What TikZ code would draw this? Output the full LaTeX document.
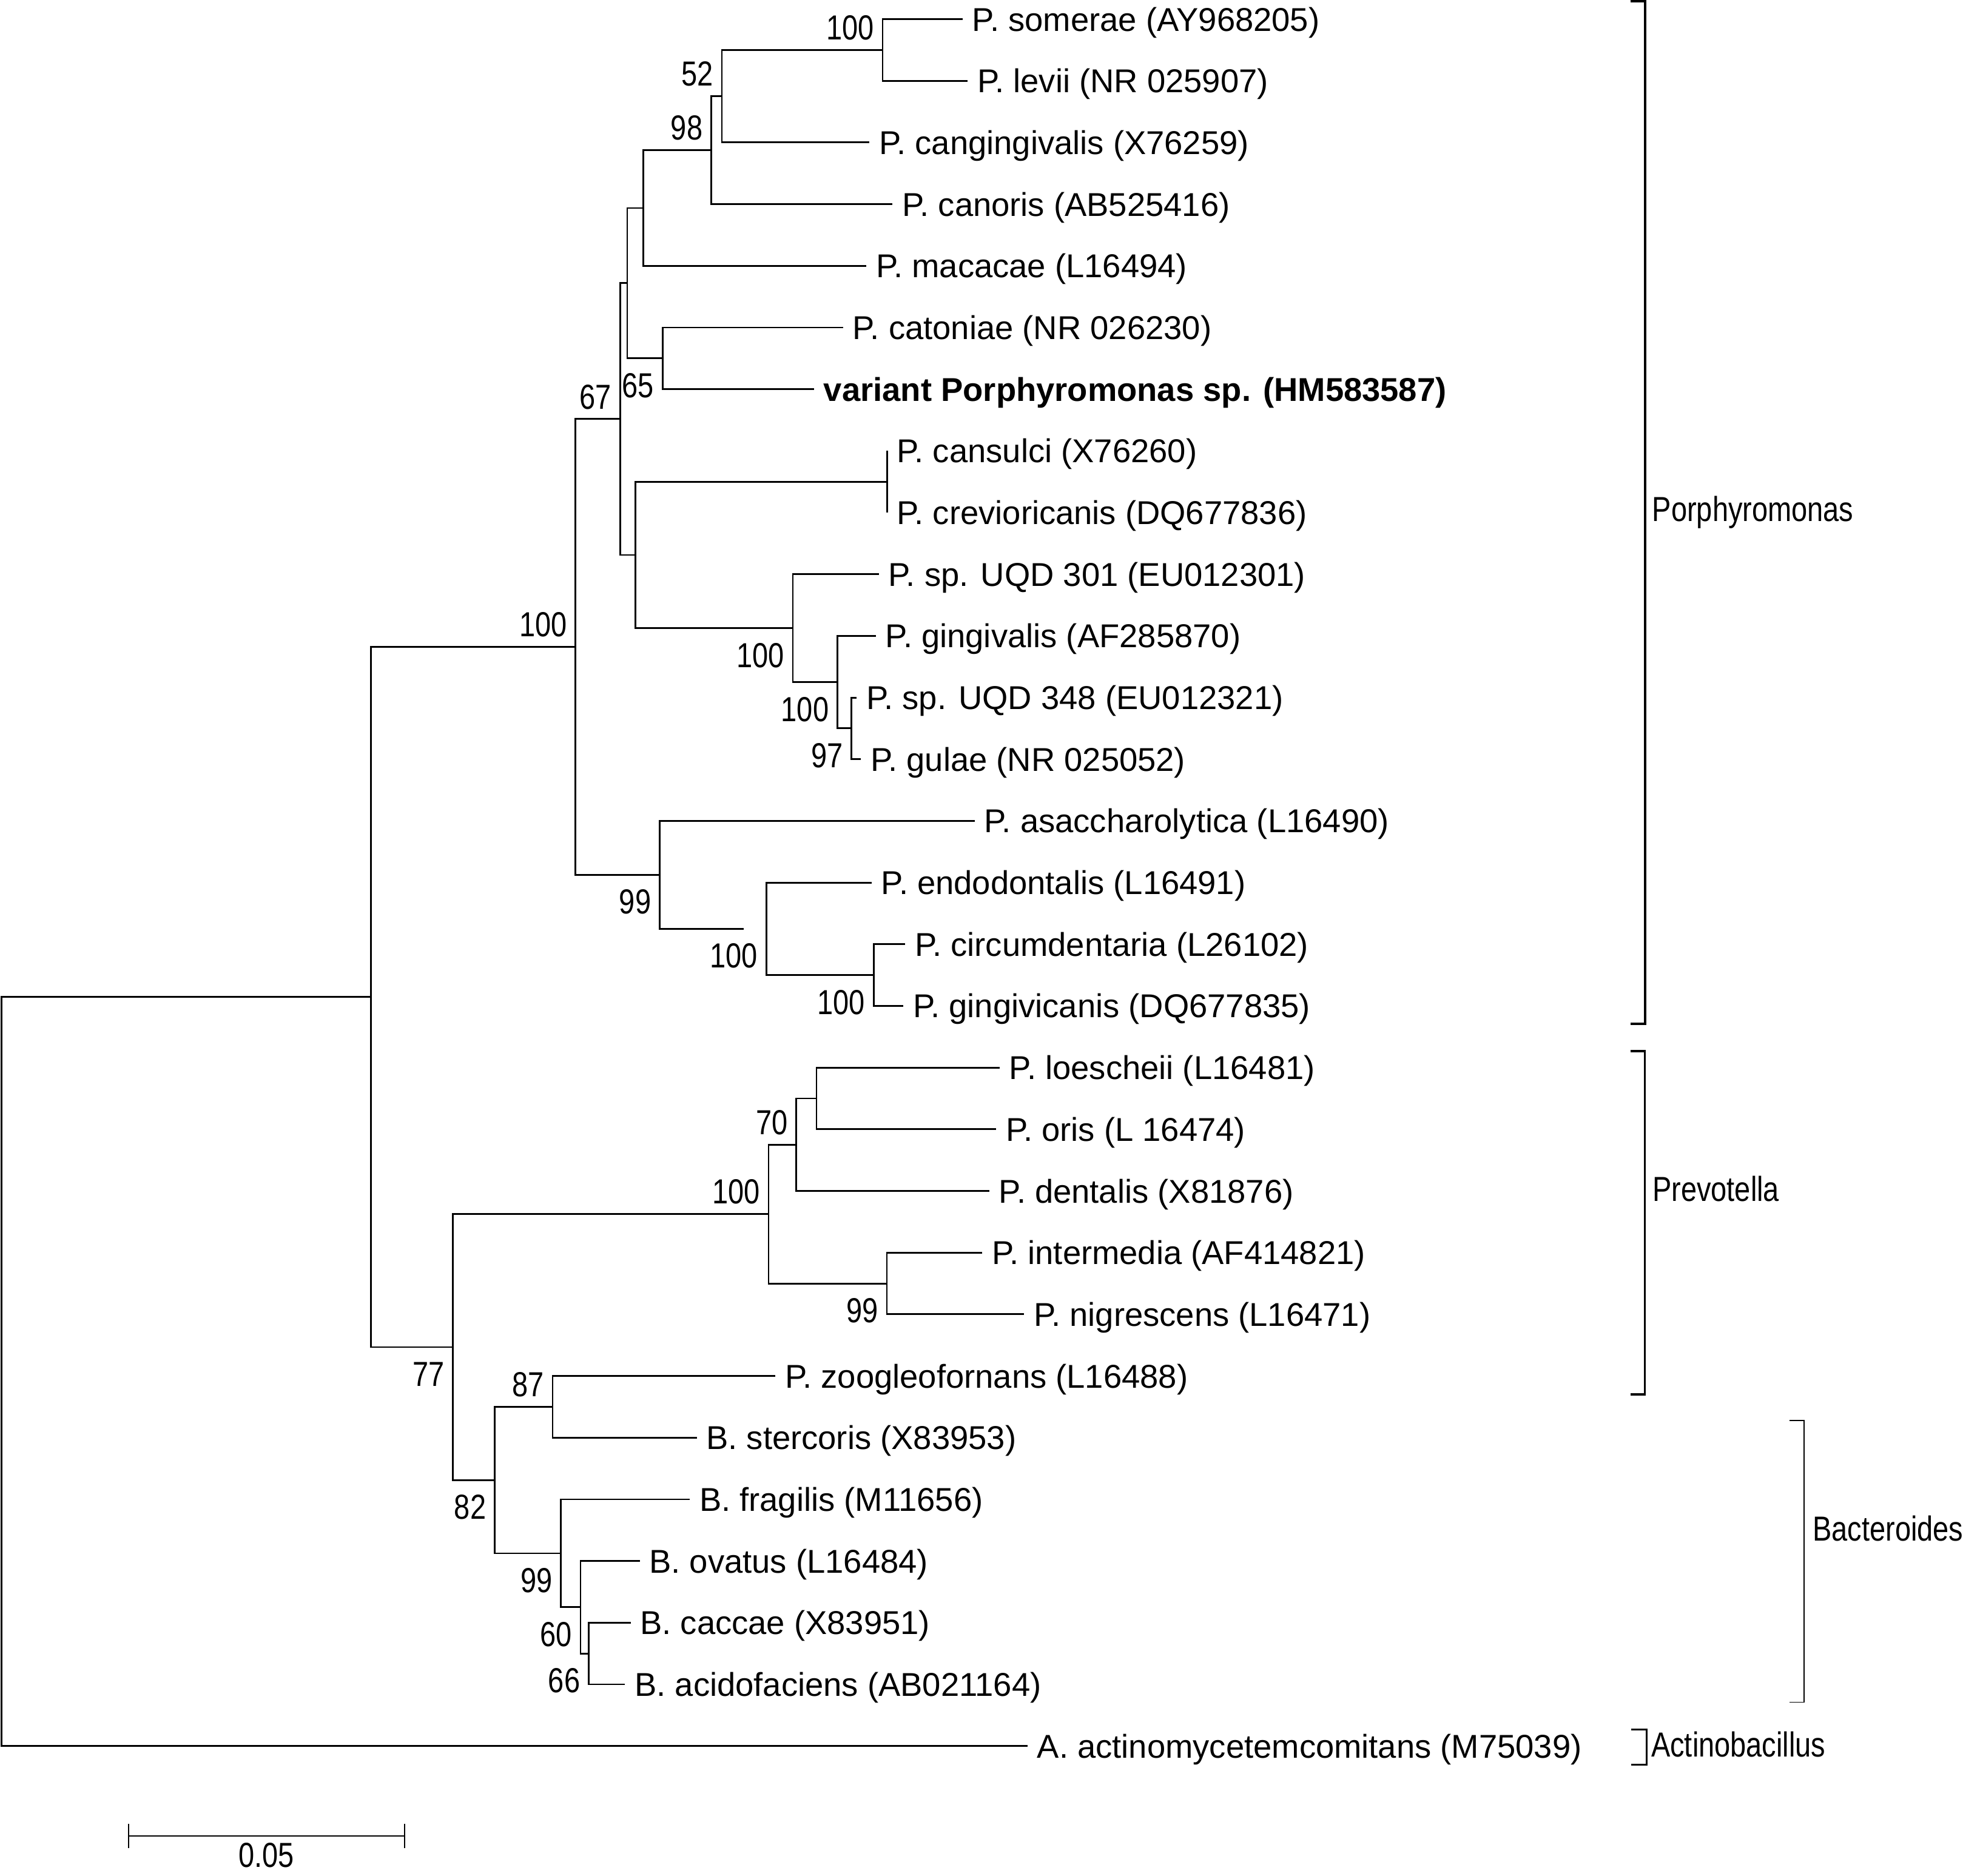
\documentclass[tikz,border=0pt]{standalone}
\usepackage{fontspec}
\setmainfont{Liberation Sans}
\newfontfamily\bootfont[FakeStretch=0.82]{Liberation Sans}
\usepackage{tikz}
\usetikzlibrary{calc}

\begin{document}
\begin{tikzpicture}[x=0.02cm, y=-0.9856cm, line width=0.8pt, line join=miter,
	leaf/.style={anchor=west, inner xsep=0.154cm, inner ysep=0pt, outer sep=0pt, text height=10.74pt, text depth=0pt, font=\fontsize{15}{18}\selectfont},
	boot/.style={inner xsep=0.14cm, outer sep=0pt, text height=11.3pt, text depth=0pt, font=\bootfont\fontsize{15.8}{18}\selectfont},
	bsup/.style={boot, anchor=south east, inner ysep=0.164cm},
	bsdn/.style={boot, anchor=north east, inner ysep=0.228cm},
	genus/.style={anchor=west, inner sep=0pt, outer sep=0pt, text height=11.3pt, text depth=0pt, font=\bootfont\fontsize{15.8}{18}\selectfont},
	bracket/.style={line width=1.05pt}]

			\useasboundingbox (0,-0.3105) rectangle (1568,30.107);

			\node[leaf] (som) at (769,0){P. somerae (AY968205)};
			\node[leaf] (lev) at (773,1){P. levii (NR 025907)};
			\node[leaf] (cang) at (694.5,2){P. cangingivalis (X76259)};
			\node[leaf] (canor) at (713,3){P. canoris (AB525416)};
			\node[leaf] (maca) at (692,4){P. macacae (L16494)};
			\node[leaf] (cato) at (673.4,5){P. catoniae (NR 026230)};
			\node[leaf] (vari) at (650.3,6){\bfseries variant Porphyromonas sp. (HM583587)};
			\node[leaf] (cansu) at (708.7,7){P. cansulci (X76260)};
			\node[leaf] (crev) at (708.7,8){P. crevioricanis (DQ677836)};
			\node[leaf] (uqdA) at (702,9){P. sp. UQD 301 (EU012301)};
			\node[leaf] (ging) at (699.6,10){P. gingivalis (AF285870)};
			\node[leaf] (uqdB) at (684.3,11){P. sp. UQD 348 (EU012321)};
			\node[leaf] (gulae) at (687.7,12){P. gulae (NR 025052)};
			\node[leaf] (asac) at (778.5,13){P. asaccharolytica (L16490)};
			\node[leaf] (endo) at (696.2,14){P. endodontalis (L16491)};
			\node[leaf] (circ) at (723,15){P. circumdentaria (L26102)};
			\node[leaf] (gcan) at (721.6,16){P. gingivicanis (DQ677835)};
			\node[leaf] (loes) at (798.5,17){P. loescheii (L16481)};
			\node[leaf] (oris) at (795.7,18){P. oris (L 16474)};
			\node[leaf] (dent) at (790.2,19){P. dentalis (X81876)};
			\node[leaf] (inter) at (784.6,20){P. intermedia (AF414821)};
			\node[leaf] (nigr) at (818,21){P. nigrescens (L16471)};
			\node[leaf] (zoog) at (619.4,22){P. zoogleofornans (L16488)};
			\node[leaf] (sterc) at (556.5,23){B. stercoris (X83953)};
			\node[leaf] (frag) at (551,24){B. fragilis (M11656)};
			\node[leaf] (ovat) at (511,25){B. ovatus (L16484)};
			\node[leaf] (cacc) at (503.7,26){B. caccae (X83951)};
			\node[leaf] (acid) at (499.3,27){B. acidofaciens (AB021164)};
			\node[leaf] (actino) at (820.8,28){A. actinomycetemcomitans (M75039)};

			\coordinate (nSomLev) at (705,0.5);
			\coordinate (nCang) at (576.6,1.25);
			\coordinate (nCanor) at (568.2,2.125);
			\coordinate (nMaca) at (513.9,3.0625);
			\coordinate (nCato) at (529.3,5.5);
			\coordinate (nUpper) at (501,4.28125);
			\coordinate (nCansu) at (708.7,7.5);
			\coordinate (nGulae) at (680.2,11.5);
			\coordinate (nGing) at (669,10.75);
			\coordinate (nUqd) at (633.3,9.875);
			\coordinate (nMid) at (507.5,8.6875);
			\coordinate (nPorA) at (495.3,6.484375);
			\coordinate (nCirc) at (697.8,15.5);
			\coordinate (nEndo) at (612.1,14.75);
			\coordinate (gEndo) at (594,14.75);
			\coordinate (nAsac) at (527,13.875);
			\coordinate (nPor) at (459.8,10.1796875);
			\coordinate (nLoes) at (652.2,17.5);
			\coordinate (nDent) at (636.1,18.25);
			\coordinate (nInter) at (708.4,20.5);
			\coordinate (nPrev) at (613.9,19.375);
			\coordinate (nZoog) at (441.4,22.5);
			\coordinate (nCacc) at (470.3,26.5);
			\coordinate (nOvat) at (463.7,25.75);
			\coordinate (nFrag) at (448.1,24.875);
			\coordinate (nBact) at (395.2,23.6875);
			\coordinate (nPrevBact) at (361.9,21.53125);
			\coordinate (nIngroup) at (296.2,15.85546875);
			\coordinate (nRoot) at (1.2,21.927734375);

			\draw (som.west) -| (nSomLev) |- (lev.west);
			\draw (nSomLev) -| (nCang) |- (cang.west);
			\draw (nCang) -| (nCanor) |- (canor.west);
			\draw (nCanor) -| (nMaca) |- (maca.west);
			\draw (cato.west) -| (nCato) |- (vari.west);
			\draw (nMaca) -| (nUpper) |- (nCato);
			\draw (cansu.west) -| (nCansu) |- (crev.west);
			\draw (uqdB.west) -| (nGulae) |- (gulae.west);
			\draw (ging.west) -| (nGing) |- (nGulae);
			\draw (uqdA.west) -| (nUqd) |- (nGing);
			\draw (nCansu) -| (nMid) |- (nUqd);
			\draw (nUpper) -| (nPorA) |- (nMid);
			\draw (circ.west) -| (nCirc) |- (gcan.west);
			\draw (endo.west) -| (nEndo) |- (nCirc);
			\draw (asac.west) -| (nAsac) |- (gEndo);
			\draw (nPorA) -| (nPor) |- (nAsac);
			\draw (loes.west) -| (nLoes) |- (oris.west);
			\draw (nLoes) -| (nDent) |- (dent.west);
			\draw (inter.west) -| (nInter) |- (nigr.west);
			\draw (nDent) -| (nPrev) |- (nInter);
			\draw (zoog.west) -| (nZoog) |- (sterc.west);
			\draw (cacc.west) -| (nCacc) |- (acid.west);
			\draw (ovat.west) -| (nOvat) |- (nCacc);
			\draw (frag.west) -| (nFrag) |- (nOvat);
			\draw (nZoog) -| (nBact) |- (nFrag);
			\draw (nPrev) -| (nPrevBact) |- (nBact);
			\draw (nPor) -| (nIngroup) |- (nPrevBact);
			\draw (nIngroup) -| (nRoot) |- (actino.west);

			\node[bsup] (bSomLev) at (nSomLev){100};
			\node[bsup] (bCang) at (nCang){52};
			\node[bsup] (bCanor) at (nCanor){98};
			\node[bsup] (bPorA) at (nPorA){67};
			\node[bsdn] (bCato) at (nCato){65};
			\node[bsup] (bPor) at (nPor){100};
			\node[bsdn] (bUqd) at (nUqd){100};
			\node[bsdn] (bGing) at (nGing){100};
			\node[bsdn] (bGulae) at (nGulae){97};
			\node[bsdn] (bAsac) at (nAsac){99};
			\node[bsdn] (bEndo) at (nEndo){100};
			\node[bsdn] (bCirc) at (nCirc){100};
			\node[bsup] (bDent) at (nDent){70};
			\node[bsup] (bPrev) at (nPrev){100};
			\node[bsdn] (bInter) at (nInter){99};
			\node[bsdn] (bPrevBact) at (nPrevBact){77};
			\node[bsup] (bZoog) at (nZoog){87};
			\node[bsdn] (bBact) at (nBact){82};
			\node[bsdn] (bFrag) at (nFrag){99};
			\node[bsdn] (bOvat) at (nOvat){60};
			\node[bsdn] (bCacc) at (nCacc){66};

			\draw[bracket] (1302.3,-0.29) -| (1313.9,16.29) -- (1302.3,16.29);
			\draw[bracket] (1302.3,16.73) -| (1313.8,22.295) -- (1302.3,22.295);
			\draw[bracket, line width=0.5pt] (1429.6,22.72) -| (1441,27.29) -- (1429.6,27.29);
			\draw[bracket, line width=0.75pt] (1302.8,27.73) -| (1315.3,28.3) -- (1302.8,28.3);

			\node[genus] (gPor) at (1319.8,7.944){Porphyromonas};
			\node[genus] (gPrev) at (1320,18.969){Prevotella};
			\node[genus] (gBact) at (1448,24.475){Bacteroides};
			\node[genus] (gActino) at (1319,27.972){Actinobacillus};

			\coordinate (sbL) at (102.6,29.458);
			\coordinate (sbR) at (323.3,29.458);
			\draw[line width=0.5pt] (sbL) -- (sbR);
			\draw[line width=0.5pt] ($(sbL)+(0,-0.197)$) -- ($(sbL)+(0,0.197)$);
			\draw[line width=0.5pt] ($(sbR)+(0,-0.197)$) -- ($(sbR)+(0,0.197)$);
			\node[genus, anchor=center] (sbLabel) at (212.6,29.76){0.05};
		\end{tikzpicture}
\end{document}
